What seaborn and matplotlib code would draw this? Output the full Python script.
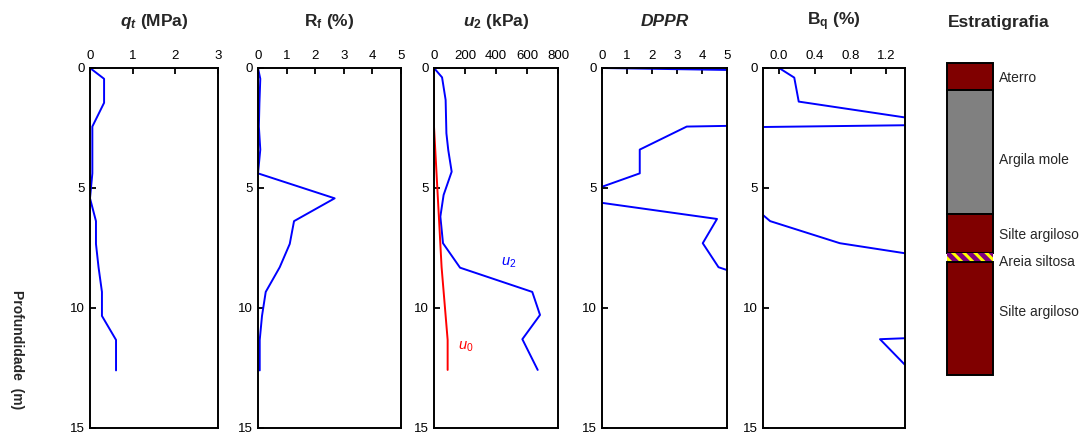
import numpy as np
import matplotlib
matplotlib.use("Agg")
import matplotlib.pyplot as plt
from matplotlib.ticker import FormatStrFormatter
import seaborn as sns

# ---- CPTu profile data (depth in m) ----
depth = [0, 0.45, 1.45, 2.44, 3.4, 4.39, 5.43, 6.38, 7.33, 8.3, 9.33, 10.33, 11.33, 12.6]
qt_mpa = [0, 0.33, 0.33, 0.055, 0.055, 0.055, 0.0, 0.14, 0.14, 0.2, 0.28, 0.28, 0.61, 0.61]
rf_pct = [0, 0.08, 0.05, 0.03, 0.08, 0.0, 2.68, 1.26, 1.11, 0.76, 0.27, 0.14, 0.06, 0.06]

u2_depth = [0, 0.39, 1.33, 2.72, 3.42, 4.32, 5.29, 6.19, 7.3, 8.32, 9.33, 10.29, 11.3, 12.58]
u2_kpa = [0, 52, 75, 80, 92, 114, 62, 41, 58, 168, 634, 684, 570, 669]

u0_depth = [0, 2.44, 8.3, 11.33, 12.58]
u0_kpa = [0, 0, 49, 88, 88]

dppr_depth = [0, 0.47, 1.45, 2.44, 3.4, 4.39, 5.43, 6.29, 7.3, 8.3, 9.33, 10.33, 11.33, 12.6]
dppr = [0, 29, 60, 3.39, 1.51, 1.51, -1.3, 4.6, 4.03, 4.66, 7.6, 8.0, 6.5, 6.0]

bq_depth = [0, 0.4, 1.4, 2.36, 2.82, 4.4, 5.43, 6.38, 7.3, 8.3, 9.33, 10.3, 11.3, 12.6]
bq = [0, 0.17, 0.22, 1.95, -8.0, -3.0, -0.4, -0.1, 0.68, 2.42, 3.5, 8.0, 1.13, 1.47]

# ---- stratigraphy ----
layer_top = [-0.2, 0.92, 6.1, 7.7, 8.1]
layer_bottom = [0.92, 6.1, 7.7, 8.1, 12.8]
layer_color = ["#800000", "#808080", "#800000", "#800080", "#800000"]
layer_names = ["Aterro", "Argila mole", "Silte argiloso", "Areia siltosa", "Silte argiloso"]
label_depth = [0.42, 3.83, 6.96, 8.1, 10.17]

# ---- x axes of each panel ----
qt_ticks = [0, 1, 2, 3]
rf_ticks = [0, 1, 2, 3, 4, 5]
u_ticks = [0, 200, 400, 600, 800]
dppr_ticks = [0, 1, 2, 3, 4, 5]
bq_ticks = [0.0, 0.4, 0.8, 1.2]
depth_ticks = [0, 5, 10, 15]

sns.set_theme(style="white")
plt.rcParams["font.family"] = ["Liberation Sans", "DejaVu Sans"]
plt.rcParams["mathtext.fontset"] = "custom"
plt.rcParams["mathtext.rm"] = "Liberation Sans"
plt.rcParams["mathtext.sf"] = "Liberation Sans:bold"
plt.rcParams["mathtext.it"] = "Liberation Sans:italic"
plt.rcParams["mathtext.bf"] = "Liberation Sans:bold:italic"
plt.rcParams["hatch.linewidth"] = 2.2

W, H = 1086, 437
fig = plt.figure(figsize=(W / 100, H / 100), dpi=100)


def add_axes_px(x0, x1, y0=68, y1=428):
    return fig.add_axes([x0 / W, (H - y1) / H, (x1 - x0) / W, (y1 - y0) / H])


BLUE = "#0000ff"
RED = "#ff0000"
LW = 1.4


def style_panel(ax, xlim, xticks, title):
    ax.set_xlim(*xlim)
    ax.set_ylim(15, 0)
    ax.set_xticks(xticks)
    ax.set_yticks(depth_ticks)
    ax.xaxis.tick_top()
    ax.set_xlabel("")
    ax.set_ylabel("")
    ax.tick_params(axis="both", direction="in", length=4, width=1.3,
                   labelsize=9.5, colors="black", pad=4,
                   top=True, bottom=False, left=True, right=False)
    for sp in ax.spines.values():
        sp.set_linewidth(1.4)
        sp.set_color("black")
        sp.set_visible(True)
    return ax.text(0.5, 1.128, title, transform=ax.transAxes, ha="center",
                   va="center", fontsize=12.5, fontweight="bold")


panels = [(90, 218), (258, 401), (434, 558), (602, 727), (763, 905)]

# q_t
ax1 = add_axes_px(*panels[0])
sns.lineplot(x=qt_mpa, y=depth, sort=False, estimator=None, color=BLUE, lw=LW, ax=ax1)
style_panel(ax1, (0, 3), qt_ticks, r"$\mathbf{q_t}$ (MPa)")

# R_f
ax2 = add_axes_px(*panels[1])
sns.lineplot(x=rf_pct, y=depth, sort=False, estimator=None, color=BLUE, lw=LW, ax=ax2)
style_panel(ax2, (0, 5), rf_ticks, r"R$_\mathsf{f}$ (%)")

# u_2 and u_0
ax3 = add_axes_px(*panels[2])
sns.lineplot(x=u2_kpa, y=u2_depth, sort=False, estimator=None, color=BLUE, lw=LW, ax=ax3)
sns.lineplot(x=u0_kpa, y=u0_depth, sort=False, estimator=None, color=RED, lw=LW, ax=ax3)
style_panel(ax3, (0, 800), u_ticks, r"$\mathbf{u}_\mathsf{2}$ (kPa)")
ax3.text(484, 8.1, r"$u_{\mathit{2}}$", color=BLUE, fontsize=10.5, ha="center", va="center")
ax3.text(203, 11.6, r"$u_{\mathit{0}}$", color=RED, fontsize=10.5, ha="center", va="center")

# DPPR
ax4 = add_axes_px(*panels[3])
sns.lineplot(x=dppr, y=dppr_depth, sort=False, estimator=None, color=BLUE, lw=LW, ax=ax4)
style_panel(ax4, (0, 5), dppr_ticks, "DPPR").set_fontstyle("italic")

# B_q
ax5 = add_axes_px(*panels[4])
sns.lineplot(x=bq, y=bq_depth, sort=False, estimator=None, color=BLUE, lw=LW, ax=ax5)
style_panel(ax5, (-0.18, 1.41), bq_ticks, r"B$_\mathsf{q}$ (%)")
ax5.xaxis.set_major_formatter(FormatStrFormatter("%.1f"))

# depth label
fig.text(17 / W, (H - 350) / H, "Profundidade  (m)", rotation=270, ha="center",
         va="center", fontsize=10, fontweight="bold")

# stratigraphic column
ax6 = add_axes_px(947, 993)
ax6.set_xlim(0, 1)
ax6.set_ylim(15, 0)
ax6.axis("off")
for top, bot, col in zip(layer_top, layer_bottom, layer_color):
    is_sand = col == "#800080"
    ax6.bar(0.5, bot - top, bottom=top, width=1.0, color=col,
            edgecolor="#ffff00" if is_sand else "black",
            linewidth=0 if is_sand else 1.4,
            hatch="\\\\\\" if is_sand else None, clip_on=False)
for name, d in zip(layer_names, label_depth):
    ax6.text(1.12, d, name, fontsize=10, ha="left", va="center", clip_on=False)
fig.text(999 / W, (H - 22) / H, "Estratigrafia", ha="center", va="center",
         fontsize=12.5, fontweight="bold")

fig.savefig("out.png", dpi=100)
